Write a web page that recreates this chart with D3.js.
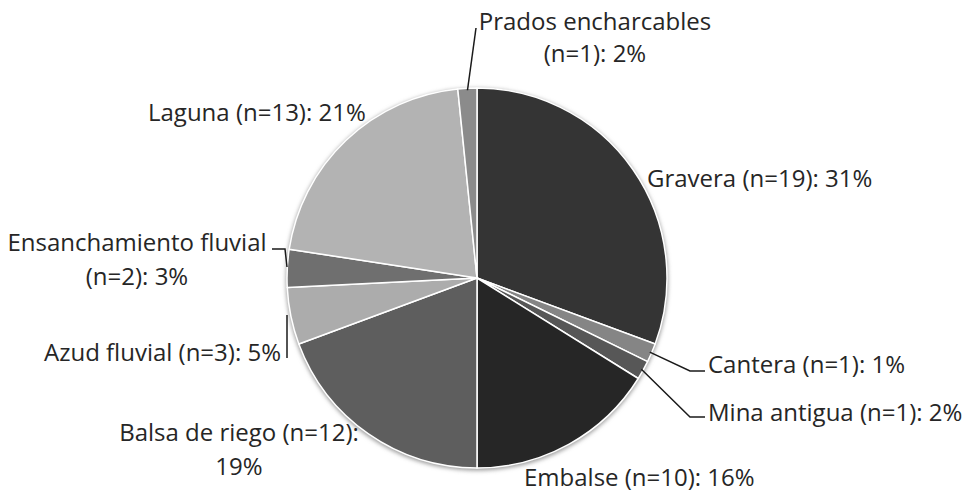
<!DOCTYPE html>
<html>
<head>
<meta charset="utf-8">
<script src="https://cdn.jsdelivr.net/npm/d3@7"></script>
<style>
  body { margin: 0; background: #fff; }
  text { font-family: "Open Sans", Lato, sans-serif; fill: #262626; }
</style>
</head>
<body>
<div id="pie_chart"></div>
<script>
//data (clockwise from 12 o'clock)
var categories = ["Gravera", "Cantera", "Mina antigua", "Embalse", "Balsa de riego",
                  "Azud fluvial", "Ensanchamiento fluvial", "Laguna", "Prados encharcables"];
var counts = [19, 1, 1, 10, 12, 3, 2, 13, 1];
var percentLabels = ["31%", "1%", "2%", "16%", "19%", "5%", "3%", "21%", "2%"];
var colors = ["#343434", "#858585", "#575757", "#262626", "#5e5e5e",
              "#acacac", "#6f6f6f", "#b3b3b3", "#8b8b8b"];

//dimensions
var width = 972, height = 502;
var cx = 477, cy = 278, radius = 190;

var svg = d3.select("#pie_chart")
  .append("svg")
  .attr("width", width)
  .attr("height", height);

//soft shadow around the pie
var defs = svg.append("defs");
var blur = defs.append("filter").attr("id", "shadow")
  .attr("x", "-10%").attr("y", "-10%").attr("width", "120%").attr("height", "120%");
blur.append("feGaussianBlur").attr("stdDeviation", 2);

var g = svg.append("g")
  .attr("transform", "translate(" + cx + "," + cy + ")");

g.append("circle")
  .attr("r", radius + 1)
  .attr("cy", 1.5)
  .attr("fill", "#9a9a9a")
  .attr("filter", "url(#shadow)");

var data = categories.map(function(c, i) {
  return {name: c, n: counts[i], pct: percentLabels[i], color: colors[i]};
});

var pie = d3.pie().sort(null).value(function(d) { return d.n; });
var arc = d3.arc().innerRadius(0).outerRadius(radius);
var arcs = pie(data);

//slices
g.selectAll(".slice")
  .data(arcs)
  .enter().append("path")
  .attr("class", "slice")
  .attr("d", arc)
  .attr("fill", function(d) { return d.data.color; })
  .attr("stroke", "#ffffff")
  .attr("stroke-width", 1.5)
  .attr("stroke-linejoin", "round");

//point on the rim at the middle of a slice (absolute coordinates)
function rim(d, r) {
  var a = (d.startAngle + d.endAngle) / 2;
  return [cx + Math.sin(a) * r, cy - Math.cos(a) * r];
}

//label layout: text lines, anchor, line gap, optional leader path
var labelSpec = {
  "Gravera":               {x: 647, y: 187, anchor: "start", lines: ["Gravera (n=19): 31%"]},
  "Cantera":               {x: 708, y: 373, anchor: "start", lines: ["Cantera (n=1): 1%"], leader: [[690, 371], [705, 371]]},
  "Mina antigua":          {x: 708, y: 421, anchor: "start", lines: ["Mina antigua (n=1): 2%"], leader: [[690, 417], [705, 417]]},
  "Embalse":               {x: 524, y: 486, anchor: "start", lines: ["Embalse (n=10): 16%"]},
  "Balsa de riego":        {x: 239, y: 441, anchor: "middle", gap: 34, lines: ["Balsa de riego (n=12):", "19%"]},
  "Azud fluvial":          {x: 281, y: 361, anchor: "end", lines: ["Azud fluvial (n=3): 5%"], leader: [[287, 315], [287, 358]], free: true},
  "Ensanchamiento fluvial":{x: 137, y: 251, anchor: "middle", gap: 34, lines: ["Ensanchamiento fluvial", "(n=2): 3%"], leader: [[272, 249], [285, 249], [287, 267]], free: true},
  "Laguna":                {x: 148, y: 121, anchor: "start", lines: ["Laguna (n=13): 21%"]},
  "Prados encharcables":   {x: 595, y: 30, anchor: "middle", gap: 32, lines: ["Prados encharcables", "(n=1): 2%"], leader: [[476, 28]]}
};

var lineGen = d3.line();

arcs.forEach(function(d) {
  var spec = labelSpec[d.data.name];
  if (spec.leader) {
    var pts = spec.free ? spec.leader : [rim(d, radius - 2)].concat(spec.leader);
    svg.append("path")
      .attr("d", lineGen(pts))
      .attr("fill", "none")
      .attr("stroke", "#1a1a1a")
      .attr("stroke-width", 1.5);
  }
  var t = svg.append("text")
    .attr("x", spec.x)
    .attr("y", spec.y)
    .attr("text-anchor", spec.anchor)
    .style("font-size", "24px");
  spec.lines.forEach(function(line, i) {
    t.append("tspan")
      .attr("x", spec.x)
      .attr("dy", i === 0 ? 0 : spec.gap)
      .text(line);
  });
});
</script>
</body>
</html>
